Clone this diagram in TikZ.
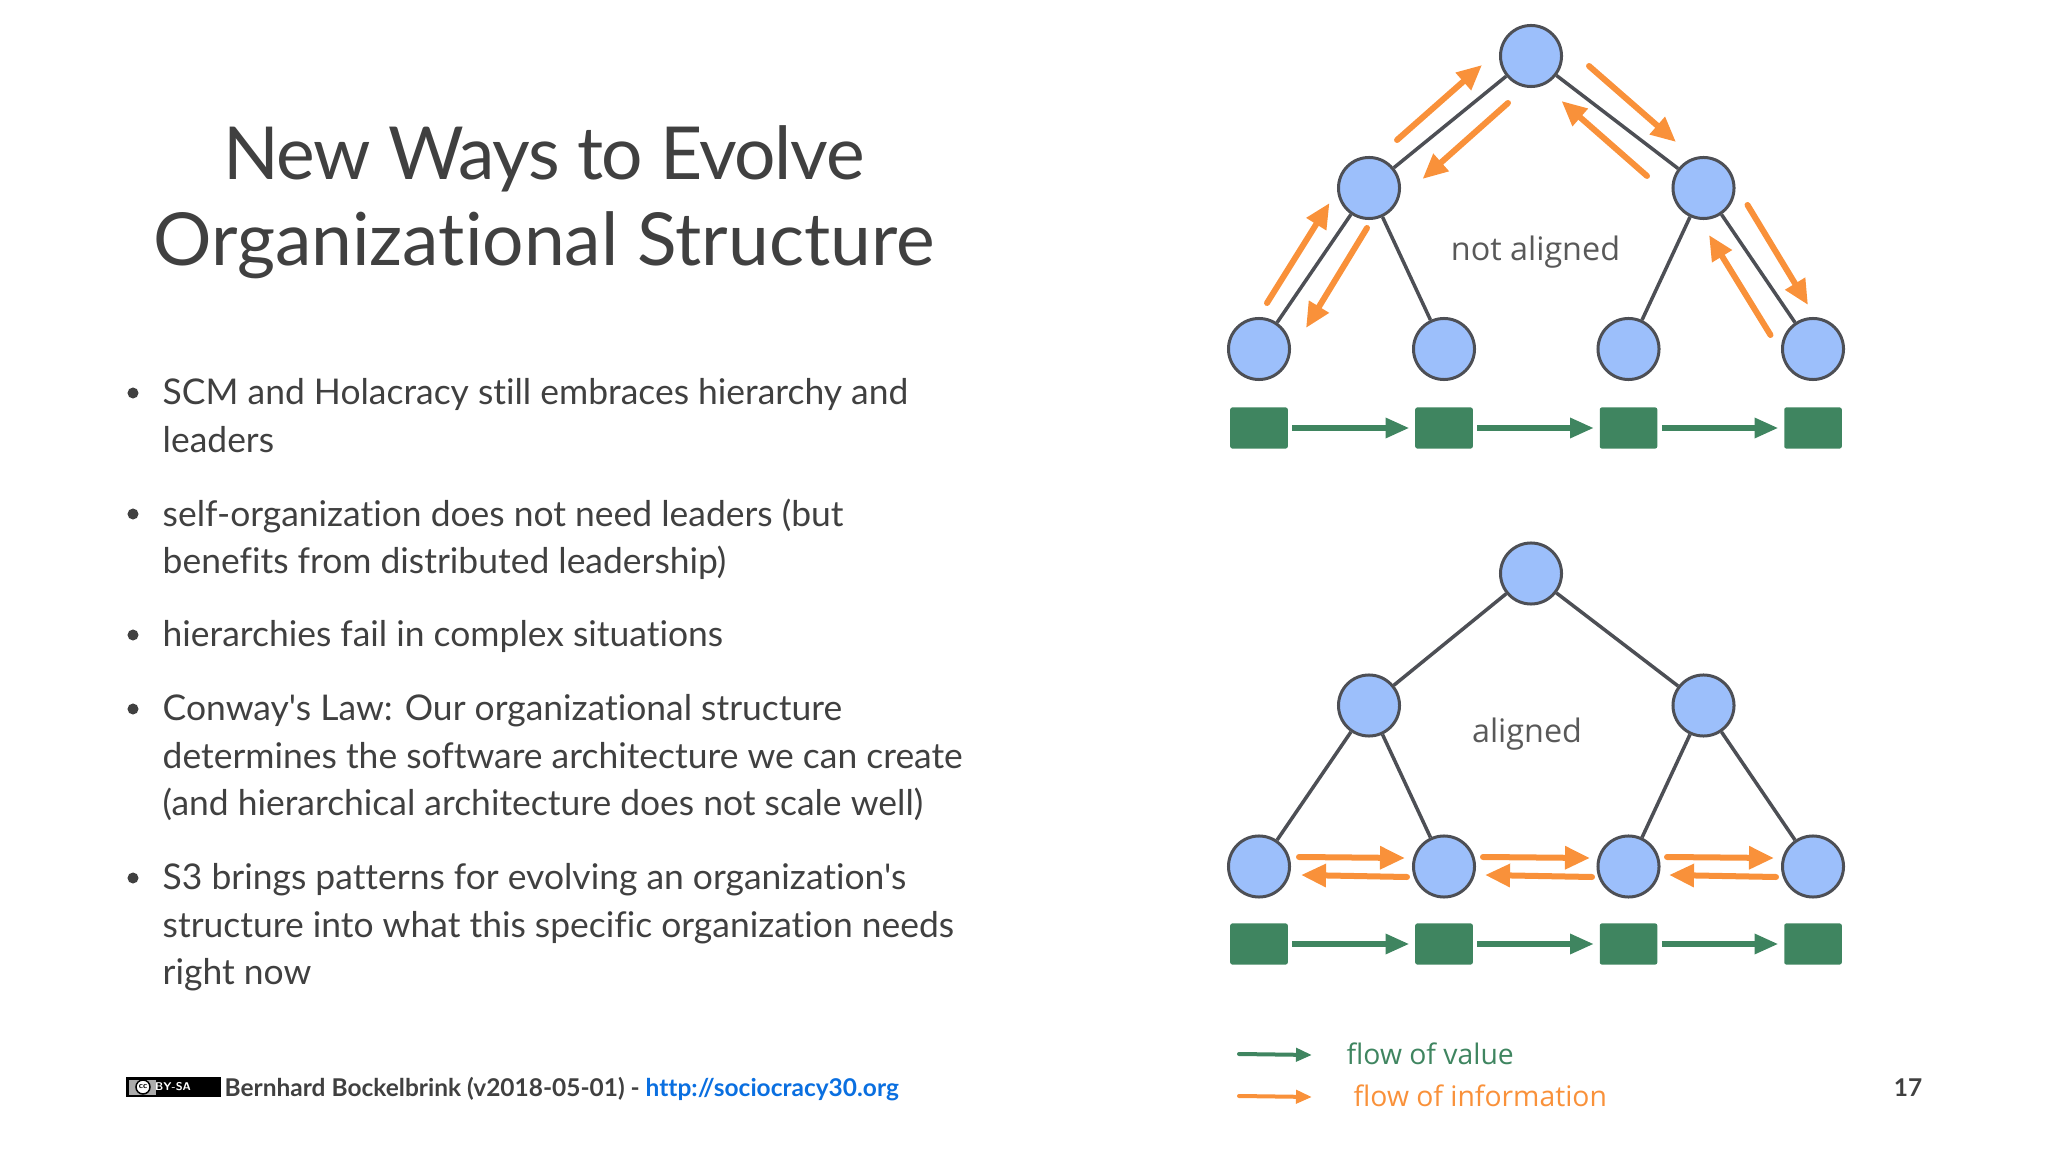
\documentclass[tikz,border=0pt]{standalone}
\usepackage{fontspec}
\setmainfont{Lato}[Ligatures={NoCommon,TeXOff}]
\newfontfamily\opensans{Open Sans}
\usetikzlibrary{arrows.meta,positioning}
\definecolor{txtgray}{HTML}{404040}
\definecolor{taggray}{HTML}{595959}
\definecolor{nodeblue}{HTML}{9CBFFB}
\definecolor{nodeline}{HTML}{4D4F55}
\definecolor{valuegreen}{HTML}{3F8560}
\definecolor{infoorange}{HTML}{F9913A}
\definecolor{linkblue}{HTML}{0A6FE0}
\definecolor{badgegray}{HTML}{ABABAB}
\tikzset{%
	role/.style     = {draw=nodeline, fill=nodeblue, circle, line width=0.03cm, minimum size=0.61cm, inner sep=0pt},
	work/.style     = {fill=valuegreen, rectangle, rounded corners=0.02cm, minimum width=0.575cm, minimum height=0.41cm, inner sep=0pt},
	link/.style     = {draw=nodeline, line width=0.035cm},
	value/.style    = {draw=valuegreen, line width=0.06cm, -{Triangle[length=0.24cm,width=0.19cm]}, shorten <=0.04cm, shorten >=0.05cm},
	info/.style     = {draw=infoorange, line width=0.06cm, line cap=round, -{Triangle[length=0.25cm,width=0.22cm]}},
	legend/.style   = {line width=0.04cm, line cap=round, -{Triangle[length=0.16cm,width=0.13cm]}},
	tag/.style      = {text=taggray, font=\opensans\fontsize{9.2}{11}\selectfont, inner sep=0pt},
	legendtext/.style = {font=\opensans\fontsize{8.05}{10}\selectfont, anchor=west, inner sep=0pt},
	bullet/.style   = {text=txtgray, font=\fontsize{10.08}{13.5}\selectfont, align=left, anchor=north west, inner sep=0pt},
	dot/.style      = {fill=txtgray, circle, minimum size=0.11cm, inner sep=0pt},
	foot/.style     = {font=\bfseries\fontsize{6.96}{9}\selectfont, text=txtgray, anchor=base west, inner sep=0pt},
}
\begin{document}
\begin{tikzpicture}[x=0.01cm,y=-0.01cm]
	\useasboundingbox (0,0) rectangle (2048,1152);
	\node[text=txtgray, font=\fontsize{20.8}{24.45}\selectfont, align=center, inner sep=0pt] (title) at (544,202) {{\addfontfeature{LetterSpace=-2}New Ways to Evolve}\\Organizational Structure};
	% bullets
	\node[bullet] (b1) at (162,378) {SCM and Holacracy still embraces hierarchy and\\leaders};
	\node[bullet] (b2) at (162,498) {self-organization does not need leaders (but\\benefits from distributed leadership)};
	\node[bullet] (b3) at (162,620) {hierarchies fail in complex situations};
	\node[bullet] (b4) at (162,694) {Conway's Law: Our organizational structure\\determines the software architecture we can create\\(and hierarchical architecture does not scale well)};
	\node[bullet] (b5) at (162,863) {S3 brings patterns for evolving an organization's\\structure into what this specific organization needs\\right now};
	\foreach \b/\y in {1/393,2/514,3/635,4/709,5/878}
		\node[dot] (d\b) at (133,\y) {};
	% trees
	\foreach \t/\dy/\sy in {a/0/428,b/517.5/944} {
		\node[role] (\t top) at (1531,56+\dy) {};
		\node[role] (\t m1) at (1369,188+\dy) {};
		\node[role] (\t m2) at (1703.5,188+\dy) {};
		\node[role] (\t l1) at (1259,349+\dy) {};
		\node[role] (\t l2) at (1444,349+\dy) {};
		\node[role] (\t l3) at (1628.5,349+\dy) {};
		\node[role] (\t l4) at (1813,349+\dy) {};
		\foreach \i/\x in {1/1259,2/1444,3/1628.5,4/1813}
			\node[work] (\t s\i) at (\x,\sy) {};
		\draw[link] (\t top) -- (\t m1);
		\draw[link] (\t top) -- (\t m2);
		\draw[link] (\t m1) -- (\t l1);
		\draw[link] (\t m1) -- (\t l2);
		\draw[link] (\t m2) -- (\t l3);
		\draw[link] (\t m2) -- (\t l4);
		\draw[value] (\t s1) -- (\t s2);
		\draw[value] (\t s2) -- (\t s3);
		\draw[value] (\t s3) -- (\t s4);
	}
	% information arrows
	\foreach \n/\ax/\ay/\bx/\by in {
		1/1397/140/1482/65, 2/1508/103/1422.5/179, 3/1589/66/1676/142, 4/1647/176/1561.5/101,
		5/1267/303/1329.5/203, 6/1367/228/1306/328, 7/1747.5/205/1808/305, 8/1770.5/335/1709/235,
		9/1299/857/1405/858, 10/1407/877/1301/875, 11/1483/857/1590/858, 12/1592/877/1485/875,
		13/1667/857/1774/858, 14/1776/877/1669/875} {
		\coordinate (i\n s) at (\ax,\ay);
		\coordinate (i\n e) at (\bx,\by);
		\draw[info] (i\n s) -- (i\n e);
	}
	\node[tag] (notaligned) at (1535.5,252) {not aligned};
	\node[tag] (aligned) at (1527,734) {aligned};
	% legend
	\coordinate (lg1) at (1239,1054);
	\coordinate (lg2) at (1312,1055);
	\coordinate (lo1) at (1239,1096);
	\coordinate (lo2) at (1312,1097);
	\draw[legend, draw=valuegreen] (lg1) -- (lg2);
	\draw[legend, draw=infoorange] (lo1) -- (lo2);
	\node[legendtext, text=valuegreen] (lgval) at (1346,1054) {flow of value};
	\node[legendtext, text=infoorange] (lginf) at (1353,1096) {flow of information};
	% footer
	\node[fill=black, minimum width=0.94cm, minimum height=0.19cm, inner sep=0pt] (badge) at (173.5,1087) {};
	\node[fill=badgegray, minimum width=0.27cm, minimum height=0.15cm, inner sep=0pt] (ccbox) at (142.5,1087) {};
	\node[draw=black, fill=white, circle, minimum size=0.14cm, inner sep=0pt, line width=0.015cm, font=\sffamily\bfseries\fontsize{2.4}{3}\selectfont] (cc) at (143,1087) {cc};
	\node[text=white, font=\sffamily\bfseries\fontsize{3.2}{4}\selectfont, inner sep=0pt] (bysa) at (173,1087) {BY-SA};
	\node[foot] (credit) at (224,1096) {Bernhard Bockelbrink (v2018-05-01) - \textcolor{linkblue}{http://sociocracy30.org}};
	\node[foot, anchor=base] (page) at (1908,1096) {17};
\end{tikzpicture}
\end{document}
